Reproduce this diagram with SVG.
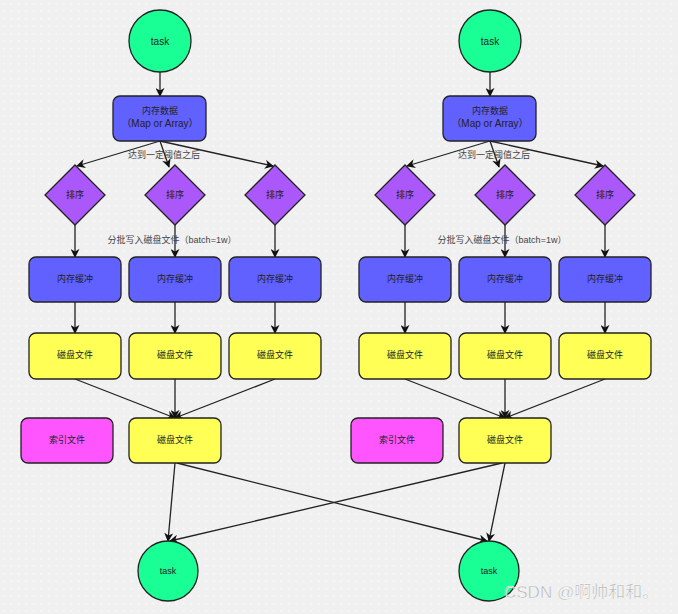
<svg xmlns="http://www.w3.org/2000/svg" width="678" height="614" viewBox="0 0 678 614">
<defs>
<pattern id="dots" width="7.5" height="7.5" patternUnits="userSpaceOnUse">
<rect x="3" y="3" width="1.3" height="1.3" fill="#ffffff"/>
</pattern>
<marker id="arr" viewBox="0 0 10 10" refX="9" refY="5" markerWidth="9" markerHeight="9" markerUnits="userSpaceOnUse" orient="auto">
<path d="M0,0 L10,5 L0,10 L3,5 z" fill="#111"/>
</marker>
<style>
text{font-family:"Liberation Sans","Noto Sans CJK SC",sans-serif;font-size:9px;fill:#222;text-anchor:middle}
.en{font-size:10px}
.lbl{fill:#444;font-size:9px}
.task{fill:#19ff95;stroke:#222;stroke-width:1.3}
.mem{fill:#6161ff;stroke:#222;stroke-width:1.3}
.dia{fill:#ab58fa;stroke:#222;stroke-width:1.3}
.disk{fill:#ffff55;stroke:#222;stroke-width:1.3}
.idx{fill:#ff55ff;stroke:#222;stroke-width:1.3}
#edges line{stroke:#222;stroke-width:1.3;marker-end:url(#arr)}
.wm{font-size:17px;fill:#b0b0b0;stroke:#ffffff;stroke-width:0.4;text-anchor:start}
</style>
</defs>
<rect width="678" height="614" fill="#f0f0f0"/>
<rect width="678" height="614" fill="url(#dots)"/>

<g id="edges">
<line x1="160" y1="72" x2="160" y2="96"/>
<line x1="160" y1="141" x2="77" y2="166"/>
<line x1="160" y1="141" x2="169" y2="167"/>
<line x1="160" y1="141" x2="273" y2="166"/>
<line x1="75" y1="225" x2="75" y2="257"/>
<line x1="175" y1="225" x2="175" y2="257"/>
<line x1="275" y1="225" x2="275" y2="257"/>
<line x1="75" y1="302" x2="75" y2="333"/>
<line x1="175" y1="302" x2="175" y2="333"/>
<line x1="275" y1="302" x2="275" y2="333"/>
<line x1="75" y1="379" x2="175" y2="418"/>
<line x1="175" y1="379" x2="175" y2="418"/>
<line x1="275" y1="379" x2="175" y2="418"/>

<line x1="490" y1="72" x2="490" y2="96"/>
<line x1="490" y1="141" x2="407" y2="166"/>
<line x1="490" y1="141" x2="499" y2="167"/>
<line x1="490" y1="141" x2="603" y2="166"/>
<line x1="405" y1="225" x2="405" y2="257"/>
<line x1="505" y1="225" x2="505" y2="257"/>
<line x1="605" y1="225" x2="605" y2="257"/>
<line x1="405" y1="302" x2="405" y2="333"/>
<line x1="505" y1="302" x2="505" y2="333"/>
<line x1="605" y1="302" x2="605" y2="333"/>
<line x1="405" y1="379" x2="505" y2="418"/>
<line x1="505" y1="379" x2="505" y2="418"/>
<line x1="605" y1="379" x2="505" y2="418"/>

<line x1="175" y1="463" x2="168" y2="541"/>
<line x1="177" y1="463" x2="487" y2="541"/>
<line x1="505" y1="463" x2="489" y2="541"/>
<line x1="502" y1="463" x2="170" y2="541"/>
<text class="lbl" x="164" y="158">达到一定阈值之后</text>
<text class="lbl" x="172" y="243">分批写入磁盘文件（batch=1w）</text>
<text class="lbl" x="494" y="158">达到一定阈值之后</text>
<text class="lbl" x="502" y="243">分批写入磁盘文件（batch=1w）</text>
</g>

<g id="task1"><circle class="task" cx="160" cy="41" r="31"/><text class="en" x="160" y="45">task</text></g>
<g id="mem1"><rect class="mem" x="113" y="96" width="93" height="45" rx="7"/><text x="160" y="114">内存数据</text><text class="en" x="160" y="127">（Map or Array）</text></g>
<g id="sort1a"><polygon class="dia" points="75,165 105,195 75,225 45,195"/><text x="75" y="198">排序</text></g>
<g id="sort1b"><polygon class="dia" points="175,165 205,195 175,225 145,195"/><text x="175" y="198">排序</text></g>
<g id="sort1c"><polygon class="dia" points="275,165 305,195 275,225 245,195"/><text x="275" y="198">排序</text></g>
<g id="buf1a"><rect class="mem" x="29" y="257" width="92" height="45" rx="7"/><text x="75" y="282">内存缓冲</text></g>
<g id="buf1b"><rect class="mem" x="129" y="257" width="92" height="45" rx="7"/><text x="175" y="282">内存缓冲</text></g>
<g id="buf1c"><rect class="mem" x="229" y="257" width="92" height="45" rx="7"/><text x="275" y="282">内存缓冲</text></g>
<g id="disk1a"><rect class="disk" x="29" y="333" width="92" height="46" rx="7"/><text x="75" y="358">磁盘文件</text></g>
<g id="disk1b"><rect class="disk" x="129" y="333" width="92" height="46" rx="7"/><text x="175" y="358">磁盘文件</text></g>
<g id="disk1c"><rect class="disk" x="229" y="333" width="92" height="46" rx="7"/><text x="275" y="358">磁盘文件</text></g>
<g id="idx1"><rect class="idx" x="21" y="418" width="92" height="45" rx="7"/><text x="67" y="443">索引文件</text></g>
<g id="merged1"><rect class="disk" x="129" y="418" width="92" height="45" rx="7"/><text x="175" y="443">磁盘文件</text></g>

<g id="task2"><circle class="task" cx="490" cy="41" r="31"/><text class="en" x="490" y="45">task</text></g>
<g id="mem2"><rect class="mem" x="443" y="96" width="93" height="45" rx="7"/><text x="490" y="114">内存数据</text><text class="en" x="490" y="127">（Map or Array）</text></g>
<g id="sort2a"><polygon class="dia" points="405,165 435,195 405,225 375,195"/><text x="405" y="198">排序</text></g>
<g id="sort2b"><polygon class="dia" points="505,165 535,195 505,225 475,195"/><text x="505" y="198">排序</text></g>
<g id="sort2c"><polygon class="dia" points="605,165 635,195 605,225 575,195"/><text x="605" y="198">排序</text></g>
<g id="buf2a"><rect class="mem" x="359" y="257" width="92" height="45" rx="7"/><text x="405" y="282">内存缓冲</text></g>
<g id="buf2b"><rect class="mem" x="459" y="257" width="92" height="45" rx="7"/><text x="505" y="282">内存缓冲</text></g>
<g id="buf2c"><rect class="mem" x="559" y="257" width="92" height="45" rx="7"/><text x="605" y="282">内存缓冲</text></g>
<g id="disk2a"><rect class="disk" x="359" y="333" width="92" height="46" rx="7"/><text x="405" y="358">磁盘文件</text></g>
<g id="disk2b"><rect class="disk" x="459" y="333" width="92" height="46" rx="7"/><text x="505" y="358">磁盘文件</text></g>
<g id="disk2c"><rect class="disk" x="559" y="333" width="92" height="46" rx="7"/><text x="605" y="358">磁盘文件</text></g>
<g id="idx2"><rect class="idx" x="351" y="418" width="92" height="45" rx="7"/><text x="397" y="443">索引文件</text></g>
<g id="merged2"><rect class="disk" x="459" y="418" width="92" height="45" rx="7"/><text x="505" y="443">磁盘文件</text></g>

<g id="task3"><circle class="task" cx="168" cy="571" r="30"/><text x="168" y="574">task</text></g>
<g id="task4"><circle class="task" cx="489" cy="571" r="30"/><text x="489" y="574">task</text></g>

<text class="wm" x="504" y="598">CSDN @啊帅和和。</text>
</svg>
